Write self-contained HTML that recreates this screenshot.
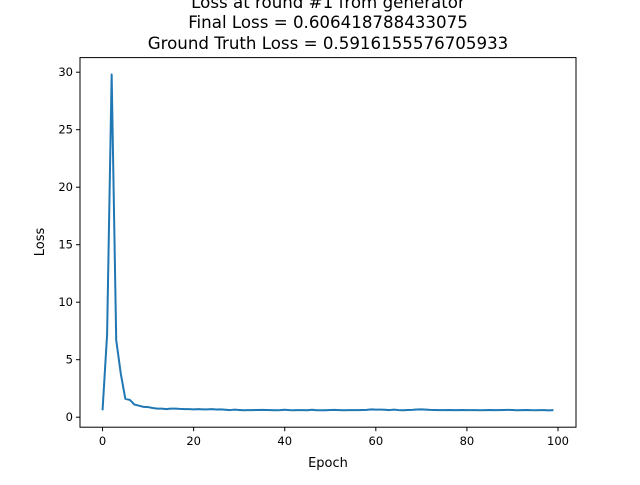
<!DOCTYPE html>
<html><head><meta charset="utf-8"><style>
body{margin:0;background:#fff;}
svg text{font-family:"DejaVu Sans","Liberation Sans",sans-serif;fill:#000;}
</style></head><body>
<svg id="chart" width="640" height="480" xmlns="http://www.w3.org/2000/svg">
<rect width="640" height="480" fill="#fff"/>
<text x="328" y="8" text-anchor="middle" font-size="16.67">Loss at round #1 from generator</text>
<text x="328" y="28" text-anchor="middle" font-size="16.67">Final Loss = 0.606418788433075</text>
<text x="328" y="49" text-anchor="middle" font-size="16.67">Ground Truth Loss = 0.5916155576705933</text>
<g id="ticks"></g>
<polyline id="line" fill="none" stroke="#1f77b4" stroke-width="2" stroke-linejoin="round"/>
<rect x="80" y="57.6" width="496" height="369.6" fill="none" stroke="#000" stroke-width="1"/>
<text x="328" y="467" text-anchor="middle" font-size="13">Epoch</text>
<text x="44" y="242" text-anchor="middle" font-size="13" transform="rotate(-90 44 242)">Loss</text>
</svg>
<script>
const lossValues=[0.6,7.2,29.8,6.7,3.8,1.6,1.5,1.1,1.0,0.9,0.88,0.8,0.75,0.75,0.7,0.75,0.75,0.72,0.7,0.7,0.68,0.7,0.68,0.68,0.7,0.67,0.68,0.65,0.62,0.66,0.63,0.6,0.62,0.62,0.63,0.64,0.63,0.62,0.6,0.61,0.65,0.62,0.6,0.61,0.62,0.6,0.65,0.6,0.6,0.6,0.63,0.64,0.62,0.6,0.62,0.62,0.62,0.63,0.64,0.68,0.66,0.66,0.65,0.62,0.66,0.62,0.6,0.63,0.64,0.67,0.68,0.66,0.64,0.63,0.62,0.62,0.63,0.62,0.62,0.63,0.62,0.62,0.61,0.6,0.62,0.63,0.62,0.61,0.63,0.64,0.63,0.6,0.62,0.63,0.61,0.6,0.62,0.61,0.59,0.61];
const xTicks=[0,20,40,60,80,100];
const yTicks=[0,5,10,15,20,25,30];
const xMin=-4.95,xMax=103.95,yMin=-0.87,yMax=31.27;
const L=80,R=576,T=57.6,B=427.2;
function sx(v){return L+(v-xMin)/(xMax-xMin)*(R-L);}
function sy(v){return B-(v-yMin)/(yMax-yMin)*(B-T);}
const NS="http://www.w3.org/2000/svg";
const g=document.getElementById('ticks');
function mk(tag,attrs){const e=document.createElementNS(NS,tag);for(const k in attrs)e.setAttribute(k,attrs[k]);g.appendChild(e);return e;}
xTicks.forEach(v=>{
  const l=mk('line',{x1:sx(v),x2:sx(v),y1:B,y2:B+4,stroke:'#000'});
  
  
  const t=mk('text',{x:sx(v),y:B+18,'text-anchor':'middle','font-size':'11.5'});
  t.textContent=v;
  
  
});
yTicks.forEach(v=>{
  const l=mk('line',{x1:L-4,x2:L,y1:sy(v),y2:sy(v),stroke:'#000'});
  
  
  const t=mk('text',{x:L-7,y:sy(v)+4,'text-anchor':'end','font-size':'11.5'});
  t.textContent=v;
  
  
});
document.getElementById('line').setAttribute('points',lossValues.map((v,i)=>sx(i)+','+sy(v)).join(' '));
</script>
</body></html>
